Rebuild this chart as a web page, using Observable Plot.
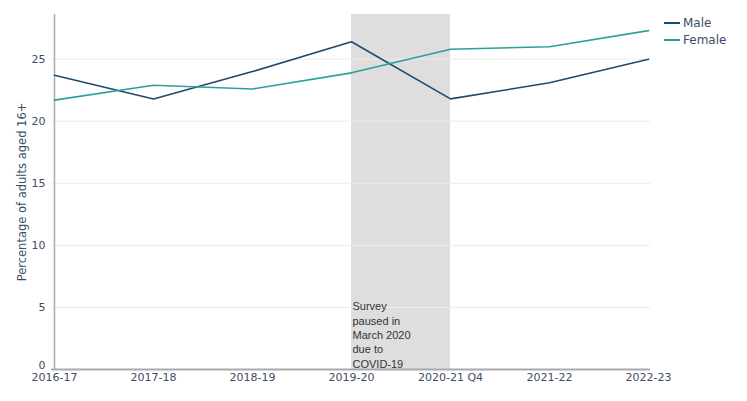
<!DOCTYPE html>
<html>
<head>
<meta charset="utf-8">
<script src="https://cdn.jsdelivr.net/npm/d3@7"></script>
<script src="https://cdn.jsdelivr.net/npm/@observablehq/plot@0.6"></script>
<style>
  body { margin: 0; background: #fff; }
  #wrap { position: relative; width: 747px; height: 401px; }
  .legend { position: absolute; left: 664px; top: 14px; font: 12px "DejaVu Sans", Verdana, sans-serif; color: #3d4d66; }
  .legend div { display: flex; align-items: center; height: 17px; }
  .legend span.sw { display: inline-block; width: 16px; height: 2px; margin-right: 3px; }
</style>
</head>
<body>
<div id="wrap"></div>
<script>
const years = ["2016-17", "2017-18", "2018-19", "2019-20", "2020-21 Q4", "2021-22", "2022-23"];
const male = [23.7, 21.8, 24.0, 26.4, 21.8, 23.1, 25.0];
const female = [21.7, 22.9, 22.6, 23.9, 25.8, 26.0, 27.3];
const yTicks = [0, 5, 10, 15, 20, 25];
const series = ["Male", "Female"];
const colors = ["#1d4a6e", "#2aa197"];
const note = "Survey\npaused in\nMarch 2020\ndue to\nCOVID-19";

const data = [];
years.forEach((y, i) => {
  data.push({year: y, value: male[i], group: "Male"});
  data.push({year: y, value: female[i], group: "Female"});
});

const chart = Plot.plot({
  width: 747,
  height: 401,
  marginLeft: 51,
  marginRight: 97,
  marginTop: 14,
  marginBottom: 32,
  style: {fontFamily: "DejaVu Sans, Verdana, sans-serif", fontSize: "11px", color: "#3d4d66", background: "#fff"},
  x: {type: "point", domain: years, padding: 0},
  y: {domain: [0, 28.6]},
  color: {domain: series, range: colors},
  marks: [
    Plot.rect([0], {x1: () => "2019-20", x2: () => "2020-21 Q4", y1: () => 0, y2: () => 28.6, fill: "#dedede"}),
    Plot.ruleY(yTicks.filter(d => d > 0), {stroke: "#ececec"}),
    Plot.axisY({ticks: yTicks.filter(d => d > 0), tickSize: 0, tickPadding: 6, label: null, fontSize: 11}),
    Plot.axisY({ticks: [0], tickSize: 0, tickPadding: 6, label: null, fontSize: 11, dy: -4}),
    Plot.axisX({tickSize: 0, tickPadding: 4, label: null, fontSize: 11}),
    Plot.text([note], {x: () => "2019-20", y: () => 0, text: d => d, textAnchor: "start", lineAnchor: "bottom", dx: 1, dy: -2, fontFamily: "Liberation Sans, Arial, sans-serif", fontSize: 11, fill: "#333", lineHeight: 1.3}),
    Plot.ruleX([years[0]], {stroke: "#aaa", strokeWidth: 1.5}),
    Plot.ruleY([0], {stroke: "#aaa", strokeWidth: 2}),
    Plot.line(data, {x: "year", y: "value", stroke: "group", z: "group", strokeWidth: 1.6}),
    Plot.text(["Percentage of adults aged 16+"], {frameAnchor: "left", textAnchor: "middle", dx: -29, rotate: -90, text: d => d, fontSize: 11.5, fill: "#3d4d66"})
  ]
});
document.getElementById("wrap").appendChild(chart);

const leg = document.createElement("div");
leg.className = "legend";
series.forEach((s, i) => {
  const row = document.createElement("div");
  row.innerHTML = `<span class="sw" style="background:${colors[i]}"></span>${s}`;
  leg.appendChild(row);
});
document.getElementById("wrap").appendChild(leg);
</script>
</body>
</html>
